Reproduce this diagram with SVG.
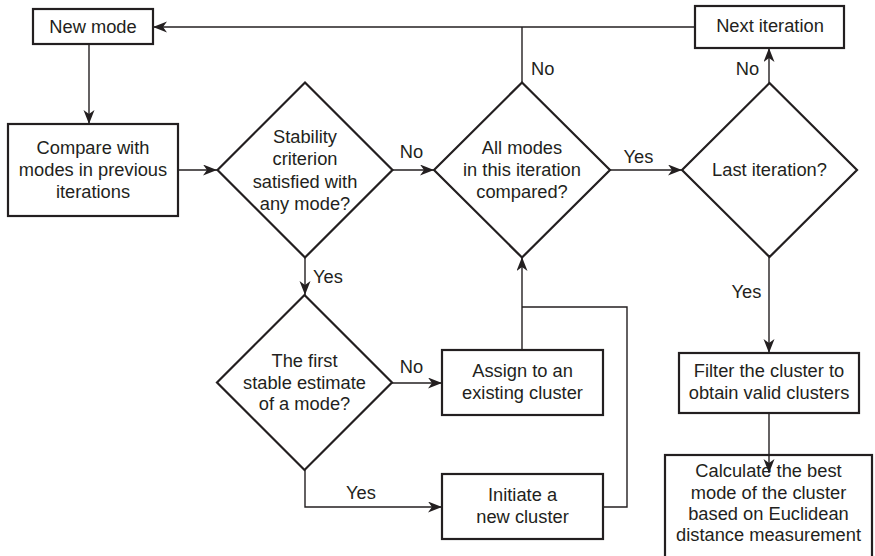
<svg xmlns="http://www.w3.org/2000/svg" width="875" height="556" viewBox="0 0 875 556">
<style>
.box{fill:#fff;stroke:#231f20;stroke-width:2.2}
.dia{fill:#fff;stroke:#231f20;stroke-width:2.2;stroke-linejoin:miter}
.t{font-family:"Liberation Sans",Arial,sans-serif;font-size:18.3px;fill:#231f20;text-anchor:middle}
.lbl{font-family:"Liberation Sans",Arial,sans-serif;font-size:18.3px;fill:#231f20}
.c{fill:none;stroke:#231f20;stroke-width:1.4}
.a{marker-end:url(#arr)}
</style>
<defs>
<marker id="arr" markerUnits="userSpaceOnUse" markerWidth="15" markerHeight="12" refX="14" refY="5.5" orient="auto">
<path d="M0,0 L14,5.5 L0,11 L4,5.5 Z" fill="#231f20"/>
</marker>
</defs>
<rect width="875" height="556" fill="#fff"/>
<g id="connectors">
<path class="c a" d="M89,44 V124"/>
<path class="c a" d="M178,170 H217"/>
<path class="c a" d="M392,170 H434"/>
<path class="c" d="M522,82 V27"/>
<path class="c a" d="M695,27 H153"/>
<path class="c a" d="M610,170 H682"/>
<path class="c a" d="M769,83 V48"/>
<path class="c a" d="M769,257 V353"/>
<path class="c a" d="M769,413 V473"/>
<path class="c a" d="M305,257 V295"/>
<path class="c a" d="M392,383 H442"/>
<path class="c a" d="M305,470 V507 H442"/>
<path class="c a" d="M522,350 V257"/>
<path class="c" d="M603,507 H627 V307 H522"/>
<text class="lbl" x="411.5" y="158" text-anchor="middle">No</text>
<text class="lbl" x="313" y="283">Yes</text>
<text class="lbl" x="531" y="75">No</text>
<text class="lbl" x="638.5" y="163" text-anchor="middle">Yes</text>
<text class="lbl" x="747.5" y="75" text-anchor="middle">No</text>
<text class="lbl" x="746.5" y="298" text-anchor="middle">Yes</text>
<text class="lbl" x="411.5" y="373" text-anchor="middle">No</text>
<text class="lbl" x="361" y="499" text-anchor="middle">Yes</text>
</g>
<g id="new-mode">
<rect class="box" x="33" y="9" width="120" height="35"/>
<text class="t" x="93" y="33">New mode</text>
</g>
<g id="compare">
<rect class="box" x="8" y="124" width="170" height="92"/>
<text class="t" x="93" y="154">Compare with</text>
<text class="t" x="93" y="176">modes in previous</text>
<text class="t" x="93" y="198">iterations</text>
</g>
<g id="stability">
<polygon class="dia" points="305,82.5 392.5,170 305,257.5 217.5,170"/>
<text class="t" x="305" y="143">Stability</text>
<text class="t" x="305" y="165">criterion</text>
<text class="t" x="305" y="187.5">satisfied with</text>
<text class="t" x="305" y="210">any mode?</text>
</g>
<g id="all-modes">
<polygon class="dia" points="522,82.5 610,170 522,257.5 434,170"/>
<text class="t" x="522" y="154">All modes</text>
<text class="t" x="522" y="176">in this iteration</text>
<text class="t" x="522" y="198">compared?</text>
</g>
<g id="next-iteration">
<rect class="box" x="695" y="6" width="149" height="42"/>
<text class="t" x="770" y="32">Next iteration</text>
</g>
<g id="last-iteration">
<polygon class="dia" points="769.5,83 857,170 769.5,257 682,170"/>
<text class="t" x="769.5" y="176">Last iteration?</text>
</g>
<g id="first-stable">
<polygon class="dia" points="304.5,295 392,382.5 304.5,470 217,382.5"/>
<text class="t" x="304.5" y="366.5">The first</text>
<text class="t" x="304.5" y="388.5">stable estimate</text>
<text class="t" x="304.5" y="410">of a mode?</text>
</g>
<g id="assign">
<rect class="box" x="442" y="350" width="161" height="65"/>
<text class="t" x="522.5" y="377">Assign to an</text>
<text class="t" x="522.5" y="399">existing cluster</text>
</g>
<g id="initiate">
<rect class="box" x="442" y="474" width="161" height="65"/>
<text class="t" x="522.5" y="500.5">Initiate a</text>
<text class="t" x="522.5" y="522.5">new cluster</text>
</g>
<g id="filter">
<rect class="box" x="679" y="353" width="180" height="60"/>
<text class="t" x="769" y="377">Filter the cluster to</text>
<text class="t" x="769" y="398.5">obtain valid clusters</text>
</g>
<g id="calculate">
<rect class="box" x="665" y="455" width="207" height="120"/>
<text class="t" x="768.5" y="477">Calculate the best</text>
<text class="t" x="768.5" y="498.5">mode of the cluster</text>
<text class="t" x="768.5" y="520">based on Euclidean</text>
<text class="t" x="768.5" y="541">distance measurement</text>
</g>
<path class="c a" d="M769,455 V473"/>
</svg>
